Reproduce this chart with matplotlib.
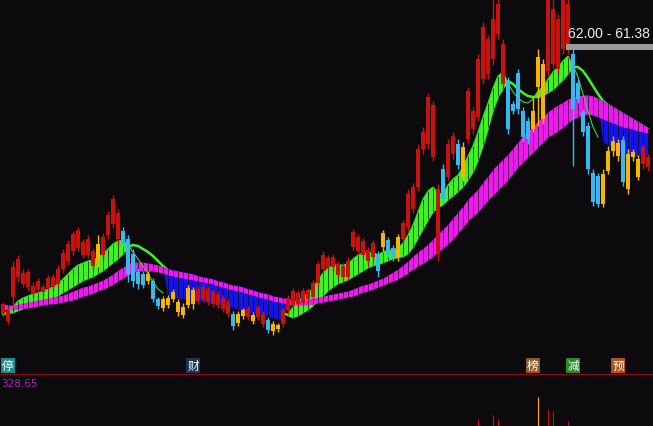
import numpy as np
import matplotlib
matplotlib.use("Agg")
import matplotlib.pyplot as plt
from matplotlib.patches import Rectangle
import matplotlib.transforms as mtransforms

# K线数据（元）
high = [36.2, 35.7, 40.3, 40.9, 39.5, 39.5, 38.2, 38.6, 38.0, 38.9,
        39.0, 39.9, 41.5, 42.4, 43.3, 43.7, 42.5, 42.9, 41.6, 42.9,
        43.1, 45.3, 46.9, 45.5, 43.7, 42.9, 41.5, 39.5, 39.3, 39.3,
        38.6, 36.7, 36.8, 36.9, 37.5, 36.5, 36.1, 37.9, 37.7, 37.8,
        38.0, 37.8, 37.5, 37.3, 36.9, 36.5, 35.3, 35.3, 35.6, 35.8,
        35.2, 35.9, 35.3, 34.7, 34.3, 34.1, 35.7, 36.9, 37.6, 37.4,
        37.6, 37.6, 38.4, 40.3, 41.3, 40.9, 41.0, 40.3, 40.1, 40.7,
        43.5, 43.0, 42.6, 41.7, 42.4, 41.3, 43.4, 42.7, 41.9, 43.0,
        44.4, 47.5, 48.1, 52.0, 53.7, 57.1, 56.3, 48.0, 50.0, 52.5,
        53.2, 52.5, 52.2, 57.7, 55.7, 61.0, 64.2, 62.9, 67.5, 67.5,
        62.5, 58.7, 56.3, 59.5, 55.7, 54.7, 56.8, 61.5, 60.5, 67.5,
        67.5, 65.0, 67.5, 67.5, 61.9, 58.5, 55.5, 54.2, 49.5, 49.1,
        49.5, 51.8, 52.8, 52.5, 52.8, 51.5, 51.5, 50.9, 52.0, 51.0]
open_ = [35.0, 34.3, 36.7, 38.7, 38.0, 37.7, 37.0, 37.5, 37.2, 37.6,
         37.7, 38.0, 39.5, 40.3, 41.3, 41.6, 40.9, 40.9, 39.8, 40.3,
         40.9, 42.9, 44.0, 42.5, 43.3, 42.5, 41.0, 39.2, 39.0, 38.3,
         38.3, 36.5, 35.6, 35.9, 36.5, 35.2, 34.9, 35.9, 36.0, 36.3,
         36.5, 36.2, 36.0, 35.9, 35.5, 35.0, 35.0, 34.1, 34.8, 34.7,
         34.3, 34.7, 34.0, 34.4, 33.3, 33.5, 34.0, 35.4, 35.9, 36.0,
         36.1, 36.5, 36.7, 38.1, 39.5, 39.7, 39.7, 38.9, 38.7, 38.7,
         41.7, 41.3, 40.9, 40.3, 40.7, 40.9, 41.7, 42.4, 41.6, 40.7,
         42.5, 43.7, 45.5, 47.7, 51.5, 52.0, 50.7, 41.0, 49.5, 48.7,
         51.0, 52.0, 48.7, 52.5, 53.5, 54.7, 58.5, 59.0, 60.5, 63.0,
         58.0, 58.3, 56.0, 59.1, 55.3, 54.3, 53.5, 57.7, 54.5, 59.3,
         60.0, 59.5, 61.5, 61.5, 61.0, 58.1, 55.2, 53.8, 49.1, 48.8,
         46.0, 49.3, 51.3, 50.8, 52.4, 47.5, 50.7, 48.7, 50.0, 49.7]
close = [36.0, 35.3, 39.7, 40.5, 39.1, 39.2, 37.8, 38.3, 37.7, 38.6,
         38.7, 39.5, 41.1, 42.0, 43.0, 43.4, 42.2, 42.5, 41.3, 42.0,
         42.7, 44.9, 46.5, 45.1, 42.0, 39.0, 38.3, 38.0, 37.9, 39.0,
         36.5, 35.8, 36.5, 36.6, 37.2, 36.2, 35.7, 37.6, 37.4, 37.5,
         37.7, 37.5, 37.2, 37.0, 36.6, 36.2, 33.8, 35.0, 35.4, 35.5,
         34.9, 35.6, 35.0, 33.4, 34.0, 33.9, 35.4, 36.6, 37.3, 37.1,
         37.3, 37.4, 38.1, 40.0, 40.9, 40.6, 40.7, 40.0, 39.8, 40.3,
         43.2, 42.7, 42.3, 41.4, 42.1, 39.3, 43.1, 41.0, 40.6, 42.7,
         44.1, 47.0, 47.7, 51.5, 53.2, 56.7, 55.9, 47.5, 46.5, 52.0,
         52.8, 49.9, 51.7, 57.3, 55.3, 60.5, 63.7, 62.5, 64.5, 66.0,
         62.0, 53.5, 55.3, 55.5, 52.7, 52.5, 55.3, 60.7, 60.0, 66.5,
         65.5, 64.5, 66.5, 66.0, 55.5, 56.5, 53.2, 49.5, 46.2, 46.0,
         49.0, 51.3, 52.3, 52.1, 48.2, 51.0, 51.2, 50.5, 51.7, 50.7]
low = [34.7, 34.0, 35.8, 38.2, 37.7, 37.3, 36.7, 37.2, 36.9, 37.3,
       37.4, 37.7, 39.1, 39.9, 40.9, 41.3, 40.6, 40.6, 39.5, 39.7,
       40.5, 42.5, 43.6, 41.8, 41.7, 38.2, 37.7, 37.5, 37.6, 38.0,
       36.2, 35.5, 35.3, 35.6, 36.2, 34.8, 34.6, 35.6, 35.5, 36.0,
       36.2, 35.9, 35.7, 35.6, 35.2, 34.7, 33.4, 33.8, 34.5, 34.4,
       34.0, 34.4, 33.7, 33.1, 32.9, 33.2, 33.7, 35.0, 35.5, 35.7,
       35.8, 36.1, 36.4, 37.7, 39.1, 39.4, 39.3, 38.6, 38.4, 38.4,
       41.3, 40.9, 40.6, 40.0, 40.4, 38.7, 41.3, 40.7, 40.3, 40.3,
       42.1, 43.3, 45.1, 47.3, 51.0, 51.5, 50.3, 40.3, 46.0, 48.3,
       50.5, 49.5, 48.3, 52.0, 53.0, 54.3, 58.0, 58.5, 59.9, 62.5,
       57.5, 53.0, 55.0, 55.0, 52.2, 52.0, 53.2, 53.8, 54.0, 58.8,
       59.5, 59.0, 61.0, 61.0, 49.8, 56.1, 52.8, 49.0, 45.8, 45.7,
       45.7, 49.0, 50.8, 50.3, 47.8, 47.0, 50.3, 48.4, 49.5, 49.3]
# 强势信号（1 = 强势K线）
strong = [1] * 19 + [0] + [1] * 4 + [0] * 15 + [1] * 7 + [0] * 3 + [1, 0, 1, 1] \
    + [0] * 3 + [1] * 19 + [0] * 5 + [1] * 8 + [0, 1, 1, 0, 0] + [1] * 8 \
    + [0] * 8 + [1] * 5 + [0] * 14 + [1, 1]

# 短期趋势线（快 / 慢）
fast_line = [34.9, 35.1, 35.7, 36.3, 36.6, 36.8, 37.0, 37.1, 37.3, 37.5,
             37.7, 38.0, 38.5, 39.0, 39.5, 39.9, 40.1, 40.3, 40.4, 40.7,
             41.0, 41.5, 42.0, 42.3, 42.4, 41.9, 41.2, 40.5, 39.8, 39.0,
             38.2, 37.5, 37.1, 36.8, 36.7, 36.5, 36.5, 36.4, 36.4, 36.3,
             36.3, 36.2, 36.1, 36.0, 35.9, 35.8, 35.6, 35.4, 35.3, 35.2,
             35.1, 35.1, 35.0, 34.8, 34.6, 34.4, 34.5, 35.0, 35.7, 36.3,
             36.7, 37.1, 37.6, 38.4, 39.1, 39.6, 39.9, 39.9, 39.9, 40.0,
             40.5, 40.9, 41.1, 41.1, 41.2, 40.9, 41.2, 41.4, 41.4, 41.6,
             42.1, 42.9, 43.9, 45.2, 46.5, 47.3, 47.7, 47.1, 47.0, 47.9,
             48.5, 48.9, 49.7, 50.8, 51.8, 53.2, 54.7, 56.1, 57.6, 58.8,
             59.2, 58.1, 57.2, 56.6, 56.2, 56.1, 56.5, 57.3, 57.7, 58.5,
             59.2, 59.7, 60.3, 60.8, 59.9, 58.7, 57.0, 55.3, 53.7, 52.7,
             52.2, 51.9, 51.6, 51.3, 51.0, 50.9, 50.8, 50.8, 50.9, 50.9]
slow_line = [35.0, 35.1, 35.2, 35.4, 35.6, 35.8, 36.0, 36.1, 36.3, 36.5,
             36.7, 36.9, 37.2, 37.5, 37.8, 38.1, 38.4, 38.6, 38.8, 39.1,
             39.4, 39.8, 40.2, 40.6, 41.1, 41.7, 41.9, 41.8, 41.5, 41.2,
             40.8, 40.3, 39.8, 39.4, 39.2, 38.9, 38.7, 38.5, 38.3, 38.1,
             37.9, 37.7, 37.5, 37.3, 37.1, 36.9, 36.7, 36.5, 36.3, 36.2,
             36.0, 35.9, 35.7, 35.6, 35.4, 35.3, 35.1, 34.9, 34.7, 34.9,
             35.2, 35.5, 35.9, 36.4, 36.9, 37.4, 37.8, 38.1, 38.3, 38.5,
             38.8, 39.1, 39.4, 39.7, 39.9, 40.0, 40.2, 40.4, 40.6, 40.7,
             40.8, 41.1, 41.8, 42.7, 43.6, 44.5, 45.3, 45.7, 46.0, 46.5,
             46.9, 47.3, 47.8, 48.5, 49.3, 50.5, 52.0, 53.7, 55.5, 56.8,
             57.6, 58.3, 58.0, 57.5, 57.1, 56.8, 56.7, 56.7, 56.9, 57.2,
             57.5, 58.0, 58.5, 59.1, 59.7, 59.7, 59.3, 58.6, 57.8, 57.0,
             56.3, 55.9, 55.6, 55.3, 55.0, 54.7, 54.4, 54.1, 53.8, 53.5]
# 中期趋势带（上沿 / 下沿）
band_top = [36.0, 35.9, 35.9, 36.0, 36.1, 36.2, 36.3, 36.4, 36.5, 36.6,
            36.7, 36.8, 36.9, 37.1, 37.3, 37.5, 37.7, 37.8, 38.0, 38.2,
            38.4, 38.7, 39.0, 39.4, 39.7, 40.0, 40.2, 40.2, 40.2, 40.1,
            40.0, 39.9, 39.7, 39.5, 39.4, 39.3, 39.2, 39.1, 39.0, 38.8,
            38.7, 38.6, 38.5, 38.3, 38.2, 38.0, 37.9, 37.8, 37.7, 37.5,
            37.4, 37.2, 37.1, 37.0, 36.8, 36.7, 36.6, 36.5, 36.4, 36.4,
            36.4, 36.5, 36.6, 36.7, 36.8, 36.9, 37.0, 37.1, 37.2, 37.3,
            37.5, 37.7, 37.9, 38.0, 38.2, 38.4, 38.6, 38.9, 39.2, 39.5,
            39.9, 40.3, 40.8, 41.2, 41.6, 42.0, 42.5, 43.0, 43.5, 44.0,
            44.6, 45.2, 45.8, 46.5, 47.0, 47.5, 48.2, 48.8, 49.5, 50.0,
            50.5, 51.0, 51.6, 52.2, 52.8, 53.3, 53.8, 54.3, 54.8, 55.2,
            55.6, 55.9, 56.2, 56.5, 56.7, 56.8, 56.9, 56.9, 56.8, 56.6,
            56.3, 56.0, 55.7, 55.4, 55.1, 54.8, 54.5, 54.2, 53.9, 53.6]
band_bot = [35.5, 35.4, 35.4, 35.5, 35.6, 35.6, 35.7, 35.8, 35.9, 36.0,
            36.0, 36.1, 36.2, 36.3, 36.4, 36.6, 36.8, 36.9, 37.1, 37.3,
            37.5, 37.7, 38.0, 38.3, 38.6, 38.9, 39.2, 39.3, 39.3, 39.3,
            39.3, 39.2, 39.1, 38.9, 38.8, 38.7, 38.6, 38.5, 38.4, 38.3,
            38.2, 38.1, 38.0, 37.8, 37.7, 37.5, 37.4, 37.3, 37.2, 37.0,
            36.9, 36.7, 36.6, 36.5, 36.3, 36.2, 36.1, 36.0, 35.9, 35.9,
            35.9, 35.9, 36.0, 36.1, 36.2, 36.3, 36.4, 36.5, 36.6, 36.7,
            36.8, 37.0, 37.2, 37.3, 37.5, 37.7, 37.9, 38.1, 38.3, 38.5,
            38.8, 39.1, 39.5, 39.8, 40.1, 40.4, 40.8, 41.2, 41.6, 42.0,
            42.5, 43.1, 43.7, 44.3, 44.8, 45.2, 45.8, 46.4, 46.9, 47.4,
            47.9, 48.4, 49.1, 49.7, 50.2, 50.7, 51.2, 51.7, 52.2, 52.7,
            53.0, 53.3, 53.7, 54.1, 54.5, 54.7, 54.9, 55.0, 54.9, 54.7,
            54.5, 54.3, 54.1, 53.9, 53.7, 53.6, 53.5, 53.3, 53.2, 53.1]

# 事件标记
event_bars = [1, 38, 106, 114, 123]
event_text = ["停", "财", "榜", "减", "预"]

# 区间提示
range_hi, range_lo = 62.00, 61.38
range_bar = 113

# 副图
vol_bars = [95, 98, 99, 107, 109, 110, 113]
vol_vals = [44, 70, 44, 183, 107, 95, 32]
sub_max = 328.65

BG = "#0c0a0d"
RED = "#c8120e"
YEL = "#f7b500"
CYAN = "#38b8f0"
GREEN = "#3cf51e"
MAG = "#f018f0"
BLUE = "#1414e6"
event_bg = {"停": "#1f8a8a", "财": "#1c3550", "榜": "#8a5a2a", "减": "#2a8a2a", "预": "#b0501a"}

W, H = 653, 427
fig = plt.figure(figsize=(W / 100, H / 100), dpi=100, facecolor=BG)
ax = fig.add_axes([0, 52 / H, 1, 375 / H])
ax.set_facecolor(BG)
sub = fig.add_axes([0, 0, 1, 52 / H], sharex=ax)
sub.set_facecolor(BG)

n = len(close)
x = np.arange(n)
o, c, h, l = map(np.array, (open_, close, high, low))
fast = np.array(fast_line)
slow = np.array(slow_line)
mt = np.array(band_top)
mb = np.array(band_bot)

green = fast >= slow
blue = (fast < slow) & (slow <= mt)

# 趋势带
ax.plot(x, slow, color=GREEN, lw=1.8, zorder=1)
ax.fill_between(x, mt, fast, where=blue, interpolate=True, color=BLUE, lw=0, zorder=2)
ax.vlines(x[blue], fast[blue], mt[blue], color=BG, lw=0.5, zorder=2.5)
ax.fill_between(x, slow, fast, where=green, interpolate=True, color=GREEN, lw=0, zorder=2)
ax.vlines(x[green], slow[green], fast[green], color=BG, lw=0.5, zorder=2.5)
ax.fill_between(x, mb, mt, color=MAG, lw=0, zorder=3)
ax.vlines(x, mb, mt, color=BG, lw=0.5, zorder=3.5)
ax.plot(x, np.where(blue, np.nan, fast), color="#38d838", lw=0.8, zorder=4)

# K线
colors = [RED if s else (YEL if cc >= oo else CYAN) for s, oo, cc in zip(strong, o, c)]
ax.vlines(x, l, h, colors=colors, lw=1.0, zorder=5)
body_lo = np.minimum(o, c)
body_h = np.maximum(np.abs(c - o), 0.15)
ax.bar(x, body_h, bottom=body_lo, width=0.7, color=colors, lw=0, zorder=5)

# 区间提示
ax.add_patch(Rectangle((range_bar - 0.4, range_lo), n - range_bar + 1, range_hi - range_lo,
                       color="#9a9a9a", lw=0, zorder=6))
ax.text(range_bar, range_hi + 0.4, f"{range_hi:.2f} - {range_lo:.2f}", color="#eeeeee",
        fontsize=10, family="Liberation Sans", ha="left", va="bottom", zorder=7)

# 事件标记
trans = mtransforms.blended_transform_factory(ax.transData, ax.transAxes)
for b, t in zip(event_bars, event_text):
    ax.text(b, 0.006, t, transform=trans, ha="center", va="bottom", fontsize=8.5,
            color="white", family=["Noto Sans CJK SC", "DejaVu Sans"], zorder=7,
            bbox=dict(boxstyle="square,pad=0.1", fc=event_bg[t], ec="none"))

ax.set_xlim(-0.6, 130.0)
ax.set_ylim(29.0, 66.5)
ax.axis("off")

# 副图
vcol = [colors[b] for b in vol_bars]
sub.vlines(vol_bars, 0, vol_vals, colors=vcol, lw=0.8)
sub.set_ylim(0, sub_max)
sub.set_xlim(-0.6, 130.0)
for s in ["left", "right", "bottom"]:
    sub.spines[s].set_visible(False)
sub.spines["top"].set_color("#8a0a14")
sub.spines["top"].set_linewidth(1.0)
sub.set_xticks([])
sub.set_yticks([])
sub.text(0.002, 0.93, f"{sub_max:.2f}", transform=sub.transAxes, color="#b020c0",
         fontsize=7.5, ha="left", va="top")

fig.savefig("out.png", dpi=100, facecolor=BG)
